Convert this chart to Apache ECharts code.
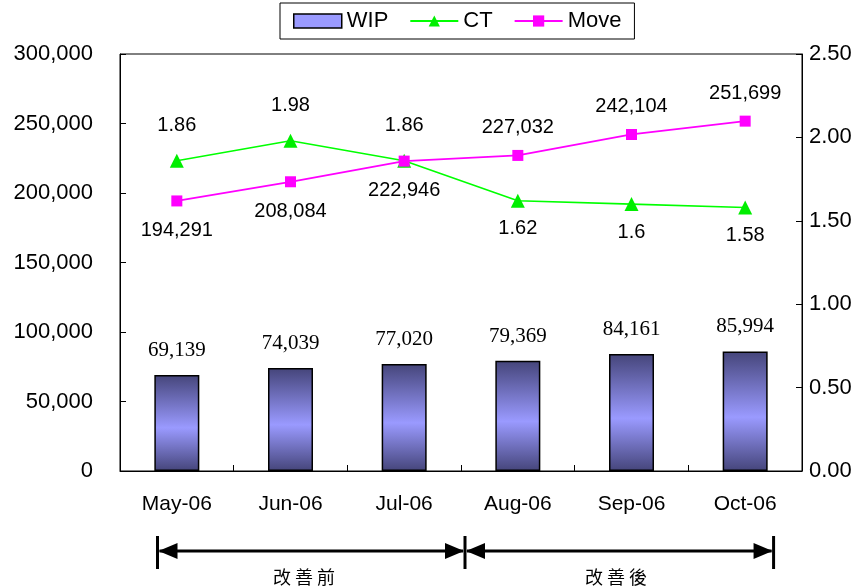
<!DOCTYPE html>
<html>
<head>
<meta charset="utf-8">
<script src="https://cdn.jsdelivr.net/npm/echarts@6/dist/echarts.min.js"></script>
<style>
  html, body { margin: 0; padding: 0; background: #fff; }
  #chart { width: 866px; height: 588px; }
</style>
</head>
<body>
<div id="chart"></div>
<script>
// Monthly fab metrics, May–Oct 2006
const months = ['May-06', 'Jun-06', 'Jul-06', 'Aug-06', 'Sep-06', 'Oct-06'];
const wip = [69139, 74039, 77020, 79369, 84161, 85994];
const ct = [1.86, 1.98, 1.86, 1.62, 1.6, 1.58];
const move = [194291, 208084, 222946, 227032, 242104, 251699];
const leftTicks = { min: 0, max: 300000, interval: 50000 };
const rightTicks = { min: 0, max: 2.5, interval: 0.5 };

// Where each point label sits relative to its marker
const ctLabelSide = ['top', 'top', 'top', 'bottom', 'bottom', 'bottom'];
const moveLabelSide = ['bottom', 'bottom', 'bottom', 'top', 'top', 'top'];

const SANS = '"Liberation Sans", Arial, sans-serif';
const SERIF = '"Liberation Serif", "Times New Roman", serif';
const CJK = '"Noto Sans CJK TC", "Noto Sans CJK SC", sans-serif';

const fmt = v => v.toLocaleString('en-US');

const barGradient = new echarts.graphic.LinearGradient(0, 0, 0, 1, [
  { offset: 0, color: '#45457a' },
  { offset: 0.55, color: '#9a9aff' },
  { offset: 1, color: '#45457a' }
]);

const chart = echarts.init(document.getElementById('chart'), null, { renderer: 'canvas' });

const option = {
  animation: false,
  backgroundColor: '#ffffff',
  textStyle: { fontFamily: SANS },
  legend: {
    top: 3,
    left: 280,
    padding: [7, 13, 7, 13],
    borderColor: '#000',
    borderWidth: 1,
    itemGap: 21,
    itemWidth: 48,
    itemHeight: 14,
    textStyle: { fontFamily: SANS, fontSize: 22, color: '#000' },
    data: [
      { name: 'WIP', icon: 'rect', itemStyle: { color: '#9a9aff', borderColor: '#000', borderWidth: 1.5 } },
      { name: 'CT' },
      { name: 'Move' }
    ]
  },
  grid: {
    left: 120, right: 64, top: 54, bottom: 117,
    show: true, borderColor: '#000', borderWidth: 1
  },
  xAxis: {
    type: 'category',
    data: months,
    axisLine: { lineStyle: { color: '#000', width: 1 } },
    axisTick: { show: true, inside: true, length: 6, lineStyle: { color: '#000' } },
    axisLabel: { color: '#000', fontFamily: SANS, fontSize: 21, margin: 23 }
  },
  yAxis: [
    {
      type: 'value',
      min: leftTicks.min, max: leftTicks.max, interval: leftTicks.interval,
      axisLine: { show: true, lineStyle: { color: '#000' } },
      axisTick: { show: true, inside: true, length: 6, lineStyle: { color: '#000' } },
      splitLine: { show: false },
      axisLabel: { color: '#000', fontFamily: SANS, fontSize: 22, margin: 27, formatter: v => fmt(v) }
    },
    {
      type: 'value',
      min: rightTicks.min, max: rightTicks.max, interval: rightTicks.interval,
      axisLine: { show: true, lineStyle: { color: '#000' } },
      axisTick: { show: true, inside: true, length: 6, lineStyle: { color: '#000' } },
      splitLine: { show: false },
      axisLabel: { color: '#000', fontFamily: SANS, fontSize: 22, margin: 7, formatter: v => v.toFixed(2) }
    }
  ],
  series: [
    {
      name: 'WIP',
      type: 'bar',
      yAxisIndex: 0,
      barWidth: 45,
      data: wip,
      itemStyle: { color: barGradient, borderColor: '#000', borderWidth: 1.5 },
      label: {
        show: true, position: 'top', distance: 14,
        fontFamily: SERIF, fontSize: 21, color: '#000',
        formatter: p => fmt(p.value)
      },
      z: 2
    },
    {
      name: 'CT',
      type: 'line',
      yAxisIndex: 1,
      symbol: 'triangle',
      symbolSize: 14,
      lineStyle: { color: '#00ff00', width: 1.6 },
      itemStyle: { color: '#00ee00' },
      data: ct.map((v, i) => ({
        value: v,
        label: { position: ctLabelSide[i], distance: ctLabelSide[i] === 'top' ? 18 : 11 }
      })),
      label: {
        show: true, fontFamily: SANS, fontSize: 20, color: '#000',
        formatter: p => String(p.value)
      },
      z: 3
    },
    {
      name: 'Move',
      type: 'line',
      yAxisIndex: 0,
      symbol: 'rect',
      symbolSize: 11,
      lineStyle: { color: '#ff00ff', width: 1.8 },
      itemStyle: { color: '#ff00ff' },
      data: move.map((v, i) => ({
        value: v,
        label: { position: moveLabelSide[i], distance: moveLabelSide[i] === 'top' ? 12 : 14 }
      })),
      label: {
        show: true, fontFamily: SANS, fontSize: 20, color: '#000',
        formatter: p => fmt(p.value)
      },
      z: 4
    }
  ]
};

chart.setOption(option);

// Before/after improvement bracket under the axis
function bracketGraphics() {
  const xOf = i => chart.convertToPixel({ xAxisIndex: 0 }, i);
  const band = xOf(1) - xOf(0);
  const xStart = xOf(0) - band * 0.17;
  const xMid = (xOf(2) + xOf(3)) / 2 + 4;
  const xEnd = xOf(5) + band * 0.25;
  const yLine = 551, yTop = 536, yBot = 569;
  const head = 20, half = 8;
  const els = [];
  [xStart, xMid, xEnd].forEach(x => {
    els.push({ type: 'line', shape: { x1: x, y1: yTop, x2: x, y2: yBot }, style: { stroke: '#000', lineWidth: 3 } });
  });
  [[xStart, xMid], [xMid, xEnd]].forEach(([a, b]) => {
    els.push({ type: 'line', shape: { x1: a + 2, y1: yLine, x2: b - 2, y2: yLine }, style: { stroke: '#000', lineWidth: 3 } });
    els.push({ type: 'polygon', shape: { points: [[a + 1, yLine], [a + head, yLine - half], [a + head, yLine + half]] }, style: { fill: '#000' } });
    els.push({ type: 'polygon', shape: { points: [[b - 1, yLine], [b - head, yLine - half], [b - head, yLine + half]] }, style: { fill: '#000' } });
  });
  els.push({ type: 'text', x: 304, y: 577,
    style: { text: '改 善 前', fontFamily: CJK, fontSize: 18, fill: '#000', align: 'center', verticalAlign: 'middle' } });
  els.push({ type: 'text', x: 616, y: 577,
    style: { text: '改 善 後', fontFamily: CJK, fontSize: 18, fill: '#000', align: 'center', verticalAlign: 'middle' } });
  return els;
}

chart.setOption({ graphic: bracketGraphics() });
</script>
</body>
</html>
